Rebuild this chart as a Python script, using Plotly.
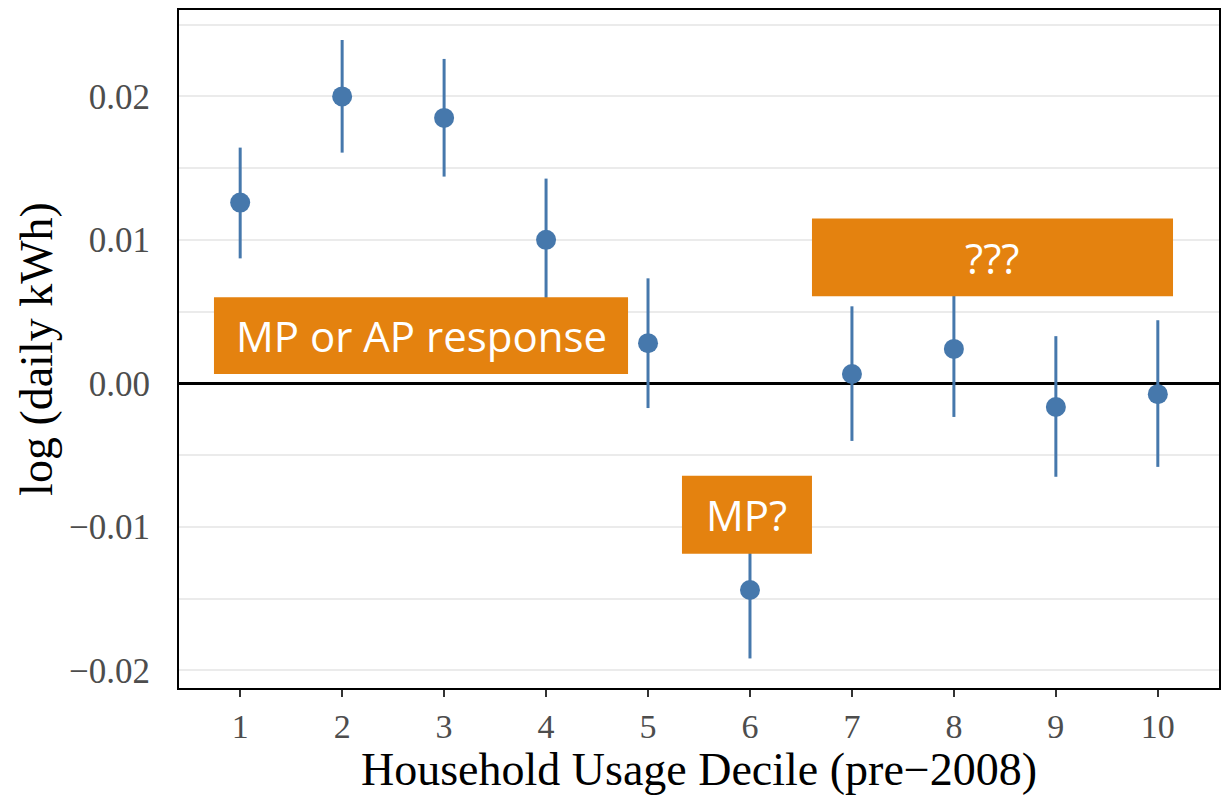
import plotly.graph_objects as go

deciles = [1, 2, 3, 4, 5, 6, 7, 8, 9, 10]
estimate = [0.0126, 0.0200, 0.0185, 0.0100, 0.0028, -0.0144, 0.00065, 0.0024, -0.00165, -0.00075]
ci_upper = [0.01643, 0.02393, 0.02261, 0.01427, 0.00732, -0.0097, 0.00537, 0.0071, 0.00329, 0.0044]
ci_lower = [0.00871, 0.01608, 0.01441, 0.0058, -0.00172, -0.01917, -0.00401, -0.00234, -0.00651, -0.00582]
y_ticks = [-0.02, -0.01, 0.0, 0.01, 0.02]
y_tick_text = ["\u22120.02", "\u22120.01", "0.00", "0.01", "0.02"]

# callout boxes: (x0, x1, y0, y1, text)
callouts = [
    (0.743, 4.804, 0.00065, 0.0060, "MP or AP response"),
    (6.608, 10.149, 0.00607, 0.01149, "???"),
    (5.333, 6.608, -0.01187, -0.00644, "MP?"),
]

point_color = "#4678AC"
orange = "#E4820F"

err_plus = [u - e for u, e in zip(ci_upper, estimate)]
err_minus = [e - l for e, l in zip(estimate, ci_lower)]

fig = go.Figure()
fig.add_trace(go.Scatter(
    x=deciles, y=estimate, mode="markers",
    marker=dict(size=20, color=point_color),
    error_y=dict(type="data", array=err_plus, arrayminus=err_minus,
                 color=point_color, thickness=3, width=0),
    showlegend=False,
))

shapes = []
annotations = []
for x0, x1, y0, y1, txt in callouts:
    shapes.append(dict(type="rect", xref="x", yref="y", x0=x0, x1=x1, y0=y0, y1=y1,
                       fillcolor=orange, line=dict(width=0), layer="above"))
    annotations.append(dict(x=(x0 + x1) / 2, y=(y0 + y1) / 2, xref="x", yref="y",
                            text=txt, showarrow=False,
                            font=dict(family="Open Sans", size=42, color="white")))

fig.update_layout(
    width=1230, height=795,
    margin=dict(l=179, r=11, t=8, b=107),
    paper_bgcolor="white", plot_bgcolor="white",
    shapes=shapes, annotations=annotations,
    font=dict(family="Liberation Serif"),
    xaxis=dict(
        range=[0.4, 10.6], tickvals=deciles, ticktext=[str(d) for d in deciles],
        showgrid=False, zeroline=False,
        showline=True, linecolor="black", linewidth=2, mirror=True,
        ticks="outside", ticklen=7, tickwidth=2, tickcolor="#333333",
        tickfont=dict(family="Liberation Serif", size=34, color="#4d4d4d"),
        title=dict(text="Household Usage Decile (pre\u22122008)",
                   font=dict(family="Liberation Serif", size=46, color="black"),
                   standoff=8),
    ),
    yaxis=dict(
        range=[-0.02123, 0.02602], tickvals=y_ticks, ticktext=y_tick_text,
        showgrid=True, gridcolor="#ebebeb", gridwidth=2,
        minor=dict(dtick=0.005, tick0=0, showgrid=True, gridcolor="#ebebeb", gridwidth=2),
        zeroline=True, zerolinecolor="black", zerolinewidth=3,
        showline=True, linecolor="black", linewidth=2, mirror=True,
        ticks="", ticklabelstandoff=20,
        tickfont=dict(family="Liberation Serif", size=35, color="#4d4d4d"),
        title=dict(text="log (daily kWh)",
                   font=dict(family="Liberation Serif", size=46, color="black"),
                   standoff=2),
    ),
)

fig.write_html("out.html")
